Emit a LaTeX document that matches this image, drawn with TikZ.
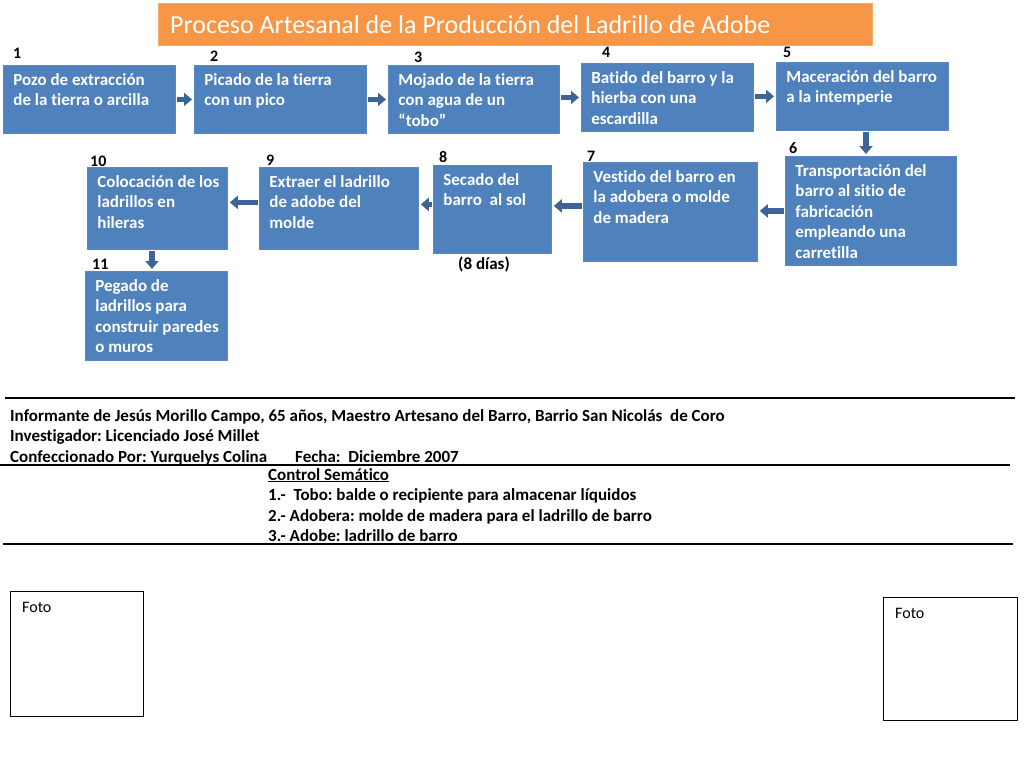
\documentclass[tikz,border=0pt]{standalone}
\usepackage{fontspec}
\setmainfont{Carlito}[Ligatures=NoCommon]
\frenchspacing
\usetikzlibrary{arrows.meta}
\definecolor{boxblue}{HTML}{4F81BD}
\definecolor{boxedge}{HTML}{5A88C0}
\definecolor{arrowblue}{HTML}{3C6595}
\definecolor{titleorange}{HTML}{F79646}
\tikzset{
  procbox/.style={fill=boxblue, draw=boxedge, line width=0.8pt, inner sep=0pt, anchor=north west, text=white, font=\bfseries\fontsize{17}{20.5}\selectfont},
  numlabel/.style={anchor=base west, inner sep=0pt, font=\bfseries\fontsize{16}{16}\selectfont},
  infotext/.style={anchor=base west, inner sep=0pt, font=\bfseries\fontsize{17}{17}\selectfont},
  barrow/.style={draw=arrowblue, line width=5.5pt, -{Triangle[length=8pt 0, width=13pt 0]}, shorten >=2pt, shorten <=1pt},
  fotobox/.style={draw=black, line width=1.2pt, anchor=north west, inner sep=0pt},
  rulel/.style={draw=black, line width=1.3pt}
}
\newcommand{\procnode}[6]{%
  \node[procbox, minimum width=#4pt, minimum height=#5pt] (#1) at (#2,#3)
  {\hspace*{10pt}\parbox[c][#5pt][t]{\dimexpr #4pt-10pt\relax}{\raggedright\rule{0pt}{20pt}#6}};}
\begin{document}
\begin{tikzpicture}[x=1pt,y=-1pt]
\useasboundingbox (0,0) rectangle (1024,768);
\fill[white] (0,0) rectangle (1024,768);

% title
\node[fill=titleorange, draw=titleorange!80!white, inner sep=0pt, anchor=north west, minimum width=714pt, minimum height=42pt, text=white, font=\fontsize{26}{26}\selectfont] (title) at (158,3)
  {\hspace*{12pt}\parbox[c][42pt][c]{702pt}{Proceso Artesanal de la Producción del Ladrillo de Adobe}};

% process boxes
\procnode{b1}{3}{65}{172}{68}{Pozo de extracción\\de la tierra o arcilla}
\procnode{b2}{194}{65}{172}{68}{Picado de la tierra\\con un pico}
\procnode{b3}{388}{65}{171}{68}{Mojado de la tierra\\con agua de un\\“tobo”}
\procnode{b4}{581}{63}{172}{68}{Batido del barro y la\\hierba con una\\escardilla}
\procnode{b5}{776}{62}{172}{68}{Maceración del barro\\a la intemperie}
\procnode{b6}{785}{156}{171}{109}{Transportación del\\barro al sitio de\\fabricación\\empleando una\\carretilla}
\procnode{b7}{583}{162}{174}{99}{Vestido del barro en\\la adobera o molde\\de madera}
\procnode{b8}{433}{165}{118}{88}{Secado del\\barro\ \ al sol}
\procnode{b9}{259}{167}{159}{82}{Extraer el ladrillo\\de adobe del\\molde}
\procnode{b10}{87}{167}{140}{82}{Colocación de los\\ladrillos en\\hileras}
\procnode{b11}{85}{271}{142}{89}{Pegado de\\ladrillos para\\construir paredes\\o muros}

% numbers
\node[numlabel] (n1) at (13,59) {1};
\node[numlabel] (n2) at (210,61) {2};
\node[numlabel] (n3) at (414,63) {3};
\node[numlabel] (n4) at (602,58) {4};
\node[numlabel] (n5) at (783,58) {5};
\node[numlabel] (n6) at (789,153) {6};
\node[numlabel] (n7) at (587,161) {7};
\node[numlabel] (n8) at (439,162) {8};
\node[numlabel] (n9) at (266,165) {9};
\node[numlabel] (n10) at (90,166) {10};
\node[numlabel] (n11) at (92,269) {11};
\node[anchor=base, inner sep=0pt, font=\bfseries\fontsize{17}{17}\selectfont] (dias) at (484,269) {(8 días)};

% arrows
\coordinate (c56) at (866,0);
\coordinate (c1011) at (152,0);
\draw[barrow] (b1.east) -- (b1.east -| b2.west);
\draw[barrow] (b2.east) -- (b2.east -| b3.west);
\draw[barrow] (b3.east |- b4.west) -- (b4.west);
\draw[barrow] (b4.east |- b5.west) -- (b5.west);
\draw[barrow] (b5.south -| c56) -- (b6.north -| c56);
\draw[barrow] (b6.west) -- (b6.west -| b7.east);
\draw[barrow] ([yshift=6pt]b7.west) -- ([yshift=6pt]b7.west -| b8.east);
\draw[barrow] ([yshift=5pt]b8.west) -- ([yshift=5pt]b8.west -| b9.east);
\draw[barrow] ([yshift=6pt]b9.west) -- ([yshift=6pt]b9.west -| b10.east);
\draw[barrow] (b10.south -| c1011) -- (b11.north -| c1011);

% info lines
\coordinate (r1a) at (5,398); \coordinate (r1b) at (1015,398);
\coordinate (r2a) at (0,465); \coordinate (r2b) at (1010,465);
\coordinate (r3a) at (3,544); \coordinate (r3b) at (1013,544);
\draw[rulel] (r1a) -- (r1b);
\draw[rulel] (r2a) -- (r2b);
\draw[rulel] (r3a) -- (r3b);
\node[infotext] (i1) at (10,421) {Informante de Jesús Morillo Campo, 65 años, Maestro Artesano del Barro, Barrio San Nicolás\ \ de Coro};
\node[infotext] (i2) at (10,441) {Investigador: Licenciado José Millet};
\node[infotext] (i3) at (10,462) {Confeccionado Por: Yurquelys Colina\hspace{28pt}Fecha:\ \ Diciembre 2007};
\node[infotext] (c0) at (268,480) {\underline{Control Semático}};
\node[infotext] (c1) at (268,500) {1.-\ \ Tobo: balde o recipiente para almacenar líquidos};
\node[infotext] (c2) at (268,521) {2.- Adobera: molde de madera para el ladrillo de barro};
\node[infotext] (c3) at (268,541) {3.- Adobe: ladrillo de barro};

% photo boxes
\node[fotobox, minimum width=133pt, minimum height=125pt] (f1) at (10,591) {};
\node[fotobox, minimum width=134pt, minimum height=123pt] (f2) at (883,597) {};
\node[anchor=base west, inner sep=0pt, font=\fontsize{16}{16}\selectfont] (ft1) at (22,612) {Foto};
\node[anchor=base west, inner sep=0pt, font=\fontsize{16}{16}\selectfont] (ft2) at (895,618) {Foto};
\end{tikzpicture}
\end{document}
